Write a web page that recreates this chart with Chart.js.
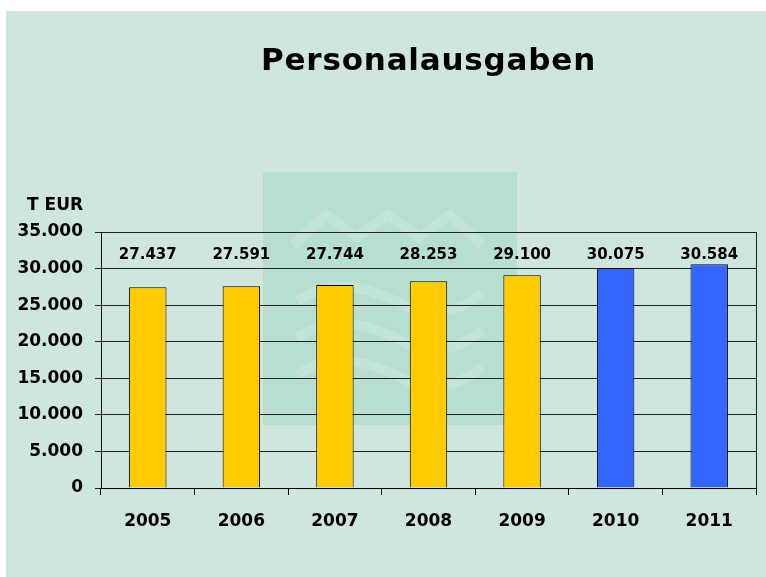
<!DOCTYPE html>
<html>
<head>
<meta charset="utf-8">
<script src="https://cdn.jsdelivr.net/npm/chart.js@4"></script>
<style>
  html, body { margin: 0; padding: 0; background: #fff; }
  canvas { display: block; }
</style>
</head>
<body>
<canvas id="personalChart" width="766" height="577"></canvas>
<script>
// values (T EUR)
const years = ['2005', '2006', '2007', '2008', '2009', '2010', '2011'];
const costs = [27437, 27591, 27744, 28253, 29100, 30075, 30584];
const barColors = ['#ffcc00', '#ffcc00', '#ffcc00', '#ffcc00', '#ffcc00', '#3366ff', '#3366ff'];
const chartTitle = 'Personalausgaben';
const unitLabel = 'T EUR';

const BG = '#cee6dd';
const FONT = '"DejaVu Sans", sans-serif';

// background panel, watermark logo, title and unit label
const decoration = {
    id: 'decoration',
    beforeDraw(chart) {
        const ctx = chart.ctx;
        ctx.save();
        ctx.fillStyle = BG;
        ctx.fillRect(6, 11, chart.width - 6, chart.height - 11);

        // faint logo square behind the plot
        ctx.fillStyle = '#b6dfd0';
        ctx.fillRect(263, 172, 254, 253);
        ctx.beginPath();
        ctx.rect(263, 172, 254, 253);
        ctx.clip();
        ctx.strokeStyle = 'rgba(225,242,236,0.3)';
        ctx.lineWidth = 10;
        ctx.lineJoin = 'miter';
        ctx.beginPath();
        ctx.moveTo(293, 245);
        ctx.lineTo(326, 215);
        ctx.lineTo(357, 237);
        ctx.lineTo(388, 215);
        ctx.lineTo(419, 237);
        ctx.lineTo(450, 215);
        ctx.lineTo(482, 245);
        ctx.stroke();
        [0, 37, 74].forEach(dy => {
            ctx.beginPath();
            ctx.moveTo(297, 301 + dy);
            ctx.bezierCurveTo(330, 280 + dy, 360, 282 + dy, 410, 308 + dy);
            ctx.bezierCurveTo(440, 318 + dy, 465, 308 + dy, 482, 293 + dy);
            ctx.stroke();
        });
        ctx.restore();

        ctx.save();
        const area = chart.chartArea;
        ctx.fillStyle = '#000';
        ctx.textAlign = 'center';
        ctx.textBaseline = 'alphabetic';
        ctx.font = 'bold 31px ' + FONT;
        ctx.letterSpacing = '0.8px';
        ctx.fillText(chartTitle, (area.left + area.right) / 2, 70);
        ctx.letterSpacing = '0px';
        ctx.textAlign = 'left';
        ctx.font = 'bold 17px ' + FONT;
        ctx.fillText(unitLabel, 27, 210);
        ctx.restore();
    },
    beforeDatasetsDraw(chart) {
        // right edge of the plot box
        const { ctx, chartArea } = chart;
        ctx.save();
        ctx.strokeStyle = '#222';
        ctx.lineWidth = 1;
        ctx.beginPath();
        ctx.moveTo(Math.round(chartArea.right) + 0.5, chartArea.top);
        ctx.lineTo(Math.round(chartArea.right) + 0.5, chartArea.bottom);
        ctx.stroke();
        ctx.restore();
    }
};

// value labels, all on one level above the bars
const valueLabels = {
    id: 'valueLabels',
    afterDatasetsDraw(chart) {
        const ctx = chart.ctx;
        const yScale = chart.scales.y;
        const level = yScale.getPixelForValue(31800);
        ctx.save();
        ctx.fillStyle = '#000';
        ctx.font = 'bold 15px ' + FONT;
        ctx.textAlign = 'center';
        ctx.textBaseline = 'middle';
        chart.getDatasetMeta(0).data.forEach((bar, i) => {
            ctx.fillText(costs[i].toLocaleString('de-DE'), bar.x, level);
        });
        ctx.restore();
    }
};

new Chart(document.getElementById('personalChart'), {
    type: 'bar',
    data: {
        labels: years,
        datasets: [{
            data: costs,
            backgroundColor: barColors,
            borderColor: '#000',
            borderWidth: 1,
            barPercentage: 0.4,
            categoryPercentage: 1
        }]
    },
    options: {
        responsive: false,
        animation: false,
        layout: { padding: { left: 0, right: 10, top: 232, bottom: 0 } },
        plugins: {
            legend: { display: false },
            title: { display: false },
            tooltip: { enabled: false }
        },
        scales: {
            x: {
                afterFit: s => { s.height = 89; },
                grid: {
                    offset: true,
                    drawOnChartArea: false,
                    drawTicks: true,
                    tickLength: 7,
                    color: '#000'
                },
                border: { color: '#000', width: 1 },
                ticks: {
                    color: '#000',
                    padding: 16,
                    font: { family: FONT, size: 17, weight: 'bold' }
                }
            },
            y: {
                min: 0,
                max: 35000,
                afterFit: s => { s.width = 101; },
                grid: {
                    color: '#222',
                    lineWidth: 1,
                    drawTicks: true,
                    tickLength: 6
                },
                border: { color: '#000', width: 1 },
                ticks: {
                    stepSize: 5000,
                    color: '#000',
                    padding: 12,
                    font: { family: FONT, size: 17, weight: 'bold' },
                    callback: v => v.toLocaleString('de-DE')
                }
            }
        }
    },
    plugins: [decoration, valueLabels]
});
</script>
</body>
</html>
